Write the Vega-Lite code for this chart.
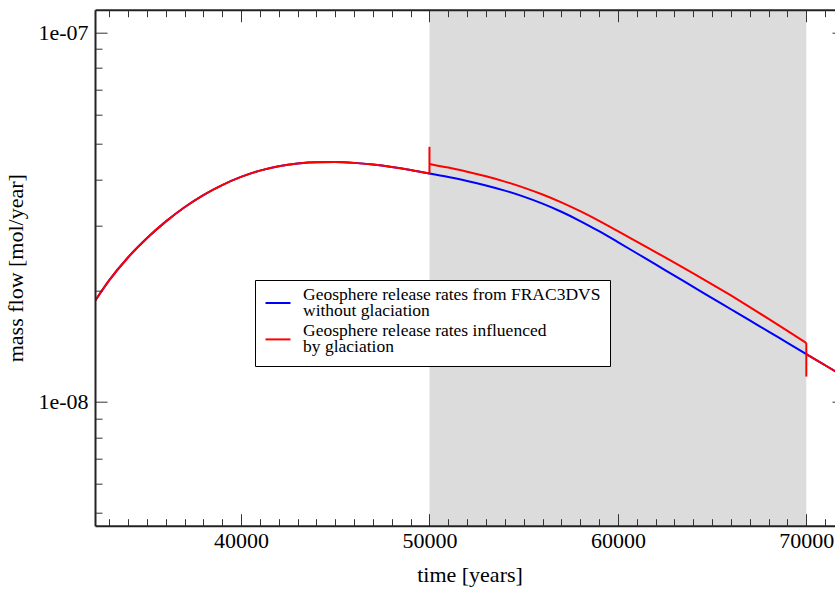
{
  "$schema": "https://vega.github.io/schema/vega-lite/v6.json",
  "width": 749,
  "height": 516,
  "autosize": {"type": "none"},
  "padding": {"left": 95, "top": 9.7, "right": -9, "bottom": 64.3},
  "background": "white",
  "config": {"view": {"stroke": null}},
  "datasets": {
    "curves": [
      {"series": "Geosphere release rates from FRAC3DVS without glaciation", "seg": "b", "t": 32250, "flow": 1.8757e-8},
      {"series": "Geosphere release rates from FRAC3DVS without glaciation", "seg": "b", "t": 33000, "flow": 2.1316e-8},
      {"series": "Geosphere release rates from FRAC3DVS without glaciation", "seg": "b", "t": 34000, "flow": 2.4587e-8},
      {"series": "Geosphere release rates from FRAC3DVS without glaciation", "seg": "b", "t": 35000, "flow": 2.7713e-8},
      {"series": "Geosphere release rates from FRAC3DVS without glaciation", "seg": "b", "t": 36000, "flow": 3.0741e-8},
      {"series": "Geosphere release rates from FRAC3DVS without glaciation", "seg": "b", "t": 37000, "flow": 3.3626e-8},
      {"series": "Geosphere release rates from FRAC3DVS without glaciation", "seg": "b", "t": 38000, "flow": 3.6283e-8},
      {"series": "Geosphere release rates from FRAC3DVS without glaciation", "seg": "b", "t": 39000, "flow": 3.8608e-8},
      {"series": "Geosphere release rates from FRAC3DVS without glaciation", "seg": "b", "t": 40000, "flow": 4.0615e-8},
      {"series": "Geosphere release rates from FRAC3DVS without glaciation", "seg": "b", "t": 41000, "flow": 4.2237e-8},
      {"series": "Geosphere release rates from FRAC3DVS without glaciation", "seg": "b", "t": 42000, "flow": 4.3422e-8},
      {"series": "Geosphere release rates from FRAC3DVS without glaciation", "seg": "b", "t": 43000, "flow": 4.4176e-8},
      {"series": "Geosphere release rates from FRAC3DVS without glaciation", "seg": "b", "t": 44000, "flow": 4.4534e-8},
      {"series": "Geosphere release rates from FRAC3DVS without glaciation", "seg": "b", "t": 45000, "flow": 4.4555e-8},
      {"series": "Geosphere release rates from FRAC3DVS without glaciation", "seg": "b", "t": 46000, "flow": 4.4329e-8},
      {"series": "Geosphere release rates from FRAC3DVS without glaciation", "seg": "b", "t": 47000, "flow": 4.3875e-8},
      {"series": "Geosphere release rates from FRAC3DVS without glaciation", "seg": "b", "t": 48000, "flow": 4.3213e-8},
      {"series": "Geosphere release rates from FRAC3DVS without glaciation", "seg": "b", "t": 49000, "flow": 4.2392e-8},
      {"series": "Geosphere release rates from FRAC3DVS without glaciation", "seg": "b", "t": 50000, "flow": 4.1467e-8},
      {"series": "Geosphere release rates from FRAC3DVS without glaciation", "seg": "b", "t": 51000, "flow": 4.0571e-8},
      {"series": "Geosphere release rates from FRAC3DVS without glaciation", "seg": "b", "t": 52000, "flow": 3.9601e-8},
      {"series": "Geosphere release rates from FRAC3DVS without glaciation", "seg": "b", "t": 53000, "flow": 3.8521e-8},
      {"series": "Geosphere release rates from FRAC3DVS without glaciation", "seg": "b", "t": 54000, "flow": 3.7299e-8},
      {"series": "Geosphere release rates from FRAC3DVS without glaciation", "seg": "b", "t": 55000, "flow": 3.5925e-8},
      {"series": "Geosphere release rates from FRAC3DVS without glaciation", "seg": "b", "t": 56000, "flow": 3.4388e-8},
      {"series": "Geosphere release rates from FRAC3DVS without glaciation", "seg": "b", "t": 57000, "flow": 3.2689e-8},
      {"series": "Geosphere release rates from FRAC3DVS without glaciation", "seg": "b", "t": 58000, "flow": 3.0860e-8},
      {"series": "Geosphere release rates from FRAC3DVS without glaciation", "seg": "b", "t": 59000, "flow": 2.8961e-8},
      {"series": "Geosphere release rates from FRAC3DVS without glaciation", "seg": "b", "t": 60000, "flow": 2.7064e-8},
      {"series": "Geosphere release rates from FRAC3DVS without glaciation", "seg": "b", "t": 61000, "flow": 2.5247e-8},
      {"series": "Geosphere release rates from FRAC3DVS without glaciation", "seg": "b", "t": 62000, "flow": 2.3540e-8},
      {"series": "Geosphere release rates from FRAC3DVS without glaciation", "seg": "b", "t": 63000, "flow": 2.1959e-8},
      {"series": "Geosphere release rates from FRAC3DVS without glaciation", "seg": "b", "t": 64000, "flow": 2.0478e-8},
      {"series": "Geosphere release rates from FRAC3DVS without glaciation", "seg": "b", "t": 65000, "flow": 1.9099e-8},
      {"series": "Geosphere release rates from FRAC3DVS without glaciation", "seg": "b", "t": 66000, "flow": 1.7811e-8},
      {"series": "Geosphere release rates from FRAC3DVS without glaciation", "seg": "b", "t": 67000, "flow": 1.6611e-8},
      {"series": "Geosphere release rates from FRAC3DVS without glaciation", "seg": "b", "t": 68000, "flow": 1.5496e-8},
      {"series": "Geosphere release rates from FRAC3DVS without glaciation", "seg": "b", "t": 69000, "flow": 1.4447e-8},
      {"series": "Geosphere release rates from FRAC3DVS without glaciation", "seg": "b", "t": 70000, "flow": 1.3474e-8},
      {"series": "Geosphere release rates from FRAC3DVS without glaciation", "seg": "b", "t": 71000, "flow": 1.2566e-8},
      {"series": "Geosphere release rates from FRAC3DVS without glaciation", "seg": "b", "t": 72000, "flow": 1.1719e-8},

      {"series": "Geosphere release rates influenced by glaciation", "seg": "r1", "t": 32250, "flow": 1.8757e-8},
      {"series": "Geosphere release rates influenced by glaciation", "seg": "r1", "t": 33000, "flow": 2.1316e-8},
      {"series": "Geosphere release rates influenced by glaciation", "seg": "r1", "t": 34000, "flow": 2.4587e-8},
      {"series": "Geosphere release rates influenced by glaciation", "seg": "r1", "t": 35000, "flow": 2.7713e-8},
      {"series": "Geosphere release rates influenced by glaciation", "seg": "r1", "t": 36000, "flow": 3.0741e-8},
      {"series": "Geosphere release rates influenced by glaciation", "seg": "r1", "t": 37000, "flow": 3.3626e-8},
      {"series": "Geosphere release rates influenced by glaciation", "seg": "r1", "t": 38000, "flow": 3.6283e-8},
      {"series": "Geosphere release rates influenced by glaciation", "seg": "r1", "t": 39000, "flow": 3.8608e-8},
      {"series": "Geosphere release rates influenced by glaciation", "seg": "r1", "t": 40000, "flow": 4.0615e-8},
      {"series": "Geosphere release rates influenced by glaciation", "seg": "r1", "t": 41000, "flow": 4.2237e-8},
      {"series": "Geosphere release rates influenced by glaciation", "seg": "r1", "t": 42000, "flow": 4.3422e-8},
      {"series": "Geosphere release rates influenced by glaciation", "seg": "r1", "t": 43000, "flow": 4.4176e-8},
      {"series": "Geosphere release rates influenced by glaciation", "seg": "r1", "t": 44000, "flow": 4.4534e-8},
      {"series": "Geosphere release rates influenced by glaciation", "seg": "r1", "t": 45000, "flow": 4.4555e-8},
      {"series": "Geosphere release rates influenced by glaciation", "seg": "r1", "t": 46000, "flow": 4.4329e-8},
      {"series": "Geosphere release rates influenced by glaciation", "seg": "r1", "t": 47000, "flow": 4.3875e-8},
      {"series": "Geosphere release rates influenced by glaciation", "seg": "r1", "t": 48000, "flow": 4.3213e-8},
      {"series": "Geosphere release rates influenced by glaciation", "seg": "r1", "t": 49000, "flow": 4.2392e-8},
      {"series": "Geosphere release rates influenced by glaciation", "seg": "r1", "t": 50000, "flow": 4.1467e-8},

      {"series": "Geosphere release rates influenced by glaciation", "seg": "r2", "t": 50000, "flow": 4.4045e-8},
      {"series": "Geosphere release rates influenced by glaciation", "seg": "r2", "t": 51000, "flow": 4.3042e-8},
      {"series": "Geosphere release rates influenced by glaciation", "seg": "r2", "t": 52000, "flow": 4.1966e-8},
      {"series": "Geosphere release rates influenced by glaciation", "seg": "r2", "t": 53000, "flow": 4.0767e-8},
      {"series": "Geosphere release rates influenced by glaciation", "seg": "r2", "t": 54000, "flow": 3.9446e-8},
      {"series": "Geosphere release rates influenced by glaciation", "seg": "r2", "t": 55000, "flow": 3.7993e-8},
      {"series": "Geosphere release rates influenced by glaciation", "seg": "r2", "t": 56000, "flow": 3.6392e-8},
      {"series": "Geosphere release rates influenced by glaciation", "seg": "r2", "t": 57000, "flow": 3.4658e-8},
      {"series": "Geosphere release rates influenced by glaciation", "seg": "r2", "t": 58000, "flow": 3.2802e-8},
      {"series": "Geosphere release rates influenced by glaciation", "seg": "r2", "t": 59000, "flow": 3.0882e-8},
      {"series": "Geosphere release rates influenced by glaciation", "seg": "r2", "t": 60000, "flow": 2.8967e-8},
      {"series": "Geosphere release rates influenced by glaciation", "seg": "r2", "t": 61000, "flow": 2.7139e-8},
      {"series": "Geosphere release rates influenced by glaciation", "seg": "r2", "t": 62000, "flow": 2.5415e-8},
      {"series": "Geosphere release rates influenced by glaciation", "seg": "r2", "t": 63000, "flow": 2.3812e-8},
      {"series": "Geosphere release rates influenced by glaciation", "seg": "r2", "t": 64000, "flow": 2.2274e-8},
      {"series": "Geosphere release rates influenced by glaciation", "seg": "r2", "t": 65000, "flow": 2.0811e-8},
      {"series": "Geosphere release rates influenced by glaciation", "seg": "r2", "t": 66000, "flow": 1.9409e-8},
      {"series": "Geosphere release rates influenced by glaciation", "seg": "r2", "t": 67000, "flow": 1.8055e-8},
      {"series": "Geosphere release rates influenced by glaciation", "seg": "r2", "t": 68000, "flow": 1.6777e-8},
      {"series": "Geosphere release rates influenced by glaciation", "seg": "r2", "t": 69000, "flow": 1.5570e-8},
      {"series": "Geosphere release rates influenced by glaciation", "seg": "r2", "t": 70000, "flow": 1.4431e-8},

      {"series": "Geosphere release rates influenced by glaciation", "seg": "r3", "t": 70000, "flow": 1.3474e-8},
      {"series": "Geosphere release rates influenced by glaciation", "seg": "r3", "t": 71000, "flow": 1.2566e-8},
      {"series": "Geosphere release rates influenced by glaciation", "seg": "r3", "t": 72000, "flow": 1.1719e-8}
    ],
    "band": [{"start": 50000, "end": 70000}],
    "jumps": [
      {"t": 50000, "low": 4.1467e-8, "high": 4.90e-8},
      {"t": 70000, "low": 1.171e-8, "high": 1.4431e-8}
    ]
  },
  "layer": [
    {
      "data": {"name": "band"},
      "mark": {"type": "rect", "color": "#dcdcdc"},
      "encoding": {
        "x": {"field": "start", "type": "quantitative", "scale": {"domain": [32250, 72000], "nice": false, "zero": false}, "axis": null},
        "x2": {"field": "end"}
      }
    },
    {
      "data": {"name": "curves"},
      "mark": {"type": "line", "interpolate": "monotone", "strokeWidth": 2, "clip": true},
      "encoding": {
        "x": {
          "field": "t", "type": "quantitative",
          "scale": {"domain": [32250, 72000], "nice": false, "zero": false},
          "axis": {
            "orient": "bottom", "values": [40000, 50000, 60000, 70000], "format": "d",
            "grid": false, "zindex": 1,
            "domain": true, "domainColor": "#222", "domainWidth": 2,
            "ticks": true, "tickSize": -12, "tickColor": "#333", "tickWidth": 1,
            "labelFont": "Liberation Serif", "labelFontSize": 22, "labelColor": "black",
            "labelPadding": 17, "labelFlush": false, "labelOverlap": false,
            "title": "time [years]", "titleFont": "Liberation Serif", "titleFontSize": 22,
            "titleFontWeight": "normal", "titleColor": "black", "titlePadding": 13
          }
        },
        "y": {
          "field": "flow", "type": "quantitative",
          "scale": {"type": "log", "domain": [4.625e-9, 1.151e-7], "nice": false, "zero": false},
          "axis": {
            "orient": "left", "values": [1e-8, 1e-7],
            "labelExpr": "replace(format(datum.value, '.0e'), 'e-', 'e-0')",
            "grid": false, "zindex": 1,
            "domain": true, "domainColor": "#222", "domainWidth": 2,
            "ticks": true, "tickSize": -12, "tickColor": "#333", "tickWidth": 1,
            "labelFont": "Liberation Serif", "labelFontSize": 22, "labelColor": "black",
            "labelPadding": 19, "labelFlush": false, "labelOverlap": false,
            "title": "mass flow [mol/year]", "titleFont": "Liberation Serif", "titleFontSize": 22,
            "titleFontWeight": "normal", "titleColor": "black", "titlePadding": 10
          }
        },
        "color": {
          "field": "series", "type": "nominal",
          "scale": {
            "domain": ["Geosphere release rates from FRAC3DVS without glaciation", "Geosphere release rates influenced by glaciation"],
            "range": ["#0000ff", "#ff0000"]
          },
          "legend": {
            "title": null, "orient": "none", "legendX": 160, "legendY": 270.3,
            "direction": "vertical",
            "symbolType": "stroke", "symbolSize": 625, "symbolStrokeWidth": 2,
            "labelFont": "Liberation Serif", "labelFontSize": 17.5, "labelColor": "black",
            "labelLimit": 500, "labelOffset": 11.5,
            "labelExpr": "datum.value == 'Geosphere release rates influenced by glaciation' ? ['Geosphere release rates influenced', 'by glaciation'] : ['Geosphere release rates from FRAC3DVS', 'without glaciation']",
            "strokeColor": "black", "fillColor": "white",
            "padding": 9.5, "rowPadding": 2.4,
            "encode": {
              "labels": {"update": {"dy": {"value": -8.3}, "lineHeight": {"value": 16}}}
            }
          }
        },
        "detail": {"field": "seg"}
      }
    },
    {
      "data": {"name": "jumps"},
      "mark": {"type": "rule", "color": "#ff0000", "strokeWidth": 2},
      "encoding": {
        "x": {"field": "t", "type": "quantitative", "scale": {"domain": [32250, 72000], "nice": false, "zero": false}, "axis": null},
        "y": {"field": "low", "type": "quantitative", "scale": {"type": "log", "domain": [4.625e-9, 1.151e-7], "nice": false, "zero": false}, "axis": null},
        "y2": {"field": "high"}
      }
    },
    {
      "data": {"name": "jumps"},
      "mark": {"type": "point", "opacity": 0},
      "encoding": {
        "x": {
          "field": "t", "type": "quantitative",
          "scale": {"domain": [32250, 72000], "nice": false, "zero": false},
          "axis": {
            "orient": "bottom", "grid": false, "zindex": 1, "domain": false, "labels": false, "title": null,
            "values": [33000, 34000, 35000, 36000, 37000, 38000, 39000, 41000, 42000, 43000, 44000, 45000, 46000, 47000, 48000, 49000, 51000, 52000, 53000, 54000, 55000, 56000, 57000, 58000, 59000, 61000, 62000, 63000, 64000, 65000, 66000, 67000, 68000, 69000, 71000],
            "tickSize": -7, "tickColor": "#333", "tickWidth": 1
          }
        },
        "y": {
          "field": "low", "type": "quantitative",
          "scale": {"type": "log", "domain": [4.625e-9, 1.151e-7], "nice": false, "zero": false},
          "axis": {
            "orient": "left", "grid": false, "zindex": 1, "domain": false, "labels": false, "title": null,
            "values": [5e-9, 6e-9, 7e-9, 8e-9, 9e-9, 2e-8, 3e-8, 4e-8, 5e-8, 6e-8, 7e-8, 8e-8, 9e-8],
            "tickSize": -7, "tickColor": "#333", "tickWidth": 1
          }
        }
      }
    },
    {
      "data": {"name": "jumps"},
      "mark": {"type": "point", "opacity": 0},
      "encoding": {
        "x": {
          "field": "t", "type": "quantitative",
          "scale": {"domain": [32250, 72000], "nice": false, "zero": false},
          "axis": {
            "orient": "top", "grid": false, "zindex": 1, "labels": false, "title": null,
            "domain": true, "domainColor": "#222", "domainWidth": 2,
            "values": [40000, 50000, 60000, 70000],
            "tickSize": -12, "tickColor": "#333", "tickWidth": 1
          }
        },
        "y": {
          "field": "low", "type": "quantitative",
          "scale": {"type": "log", "domain": [4.625e-9, 1.151e-7], "nice": false, "zero": false},
          "axis": {
            "orient": "right", "grid": false, "zindex": 1, "labels": false, "title": null,
            "domain": true, "domainColor": "#222", "domainWidth": 2,
            "values": [1e-8, 1e-7],
            "tickSize": -12, "tickColor": "#333", "tickWidth": 1
          }
        }
      }
    },
    {
      "data": {"name": "jumps"},
      "mark": {"type": "point", "opacity": 0},
      "encoding": {
        "x": {
          "field": "t", "type": "quantitative",
          "scale": {"domain": [32250, 72000], "nice": false, "zero": false},
          "axis": {
            "orient": "top", "grid": false, "zindex": 1, "domain": false, "labels": false, "title": null,
            "values": [33000, 34000, 35000, 36000, 37000, 38000, 39000, 41000, 42000, 43000, 44000, 45000, 46000, 47000, 48000, 49000, 51000, 52000, 53000, 54000, 55000, 56000, 57000, 58000, 59000, 61000, 62000, 63000, 64000, 65000, 66000, 67000, 68000, 69000, 71000],
            "tickSize": -7, "tickColor": "#333", "tickWidth": 1
          }
        },
        "y": {
          "field": "low", "type": "quantitative",
          "scale": {"type": "log", "domain": [4.625e-9, 1.151e-7], "nice": false, "zero": false},
          "axis": {
            "orient": "right", "grid": false, "zindex": 1, "domain": false, "labels": false, "title": null,
            "values": [5e-9, 6e-9, 7e-9, 8e-9, 9e-9, 2e-8, 3e-8, 4e-8, 5e-8, 6e-8, 7e-8, 8e-8, 9e-8],
            "tickSize": -7, "tickColor": "#333", "tickWidth": 1
          }
        }
      }
    }
  ],
  "resolve": {"axis": {"x": "independent", "y": "independent"}}
}
